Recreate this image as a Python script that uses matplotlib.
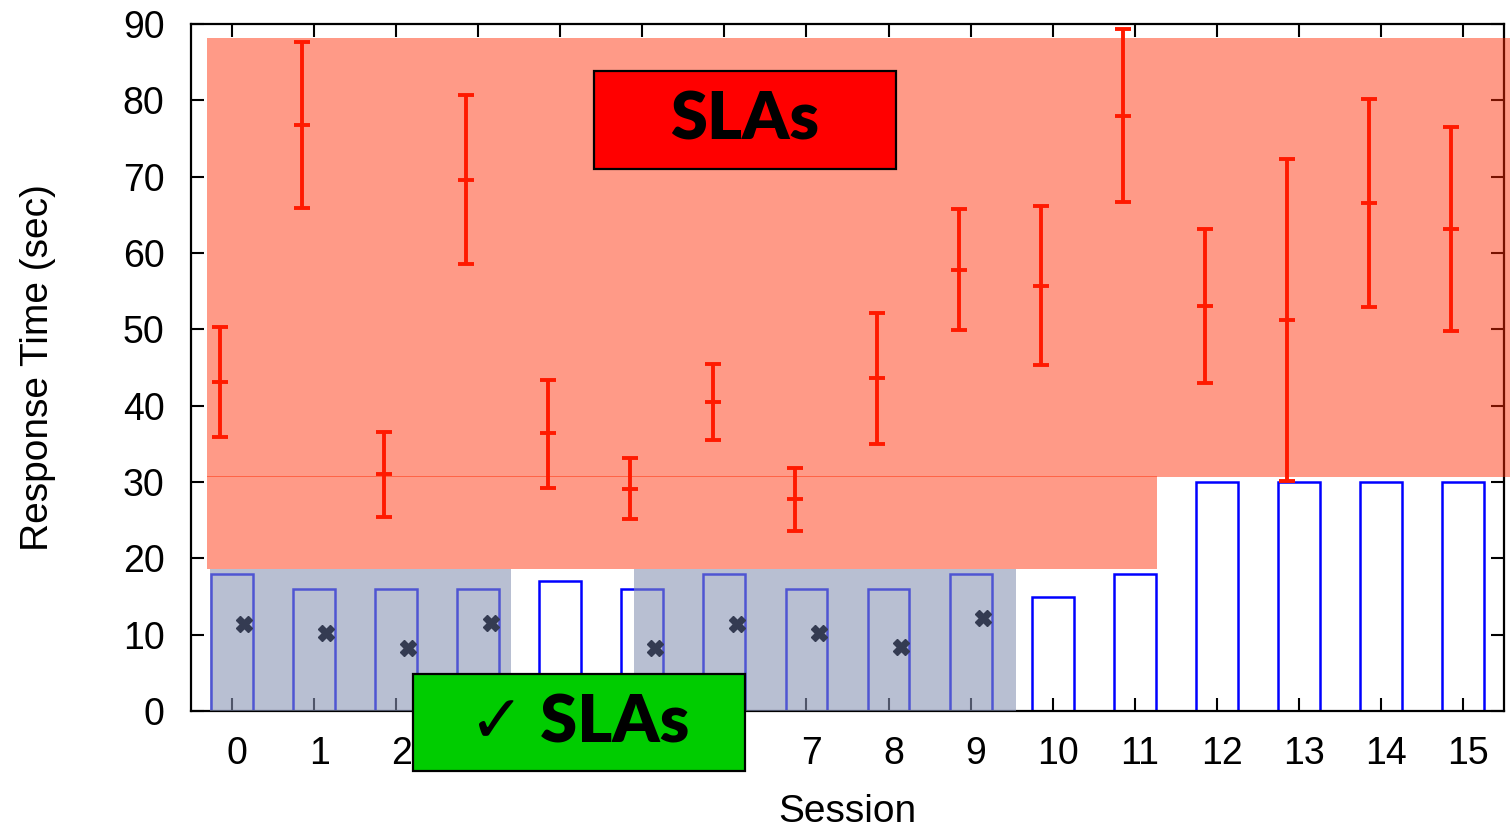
import numpy as np
import matplotlib
matplotlib.use("Agg")
import matplotlib.pyplot as plt
from matplotlib.patches import Rectangle
import matplotlib.transforms as mtransforms

plt.rcParams['font.family'] = ['Liberation Sans', 'DejaVu Sans']

# data
sessions = list(range(16))
bar_height = [18, 16, 16, 16, 17, 16, 18, 16, 16, 18, 15, 18, 30, 30, 30, 30]
resp_mean = [43.1, 76.8, 31.1, 69.6, 36.4, 29.1, 40.5, 27.8, 43.6, 57.8, 55.7, 78.0, 53.1, 51.2, 66.6, 63.2]
resp_low = [35.9, 65.9, 25.4, 58.5, 29.2, 25.2, 35.5, 23.6, 35.0, 49.9, 45.3, 66.7, 43.0, 30.1, 52.9, 49.8]
resp_high = [50.3, 87.7, 36.6, 80.7, 43.4, 33.2, 45.5, 31.8, 52.2, 65.7, 66.2, 89.4, 63.2, 72.3, 80.2, 76.5]
cross_val = [11.4, 10.2, 8.3, 11.5, None, 8.3, 11.4, 10.2, 8.4, 12.2, None, None, None, None, None, None]

# shaded zones (x range, y range)
sla_bad_upper = (-0.30, 16.0, 30.67, 88.2)
sla_bad_lower = (-0.30, 11.27, 18.6, 30.8)
sla_ok_zones = [(-0.27, 3.40), (4.90, 9.55)]
sla_ok_top = 18.6

W, H = 1510, 830
fig = plt.figure(figsize=(W / 100, H / 100), dpi=100)
ax = fig.add_axes([191 / W, 1 - 711 / H, (1504 - 191) / W, (711 - 24) / H])

x = np.array(sessions, dtype=float)
ax.bar(x, bar_height, width=0.51, facecolor='none', edgecolor='#0000ff', linewidth=1.8, zorder=2)

for x0, x1 in sla_ok_zones:
    ax.add_patch(Rectangle((x0, 0), x1 - x0, sla_ok_top, facecolor=(135/255, 146/255, 180/255),
                           alpha=0.59, edgecolor='none', zorder=3))

salmon = (1.0, 40/255, 0.0)
for x0, x1, y0, y1 in (sla_bad_upper, sla_bad_lower):
    ax.add_patch(Rectangle((x0, y0), x1 - x0, y1 - y0, facecolor=salmon, alpha=0.47,
                           edgecolor='none', zorder=3, clip_on=False))

cross = np.array([np.nan if v is None else v for v in cross_val])
ax.plot(x + 0.15, cross, linestyle='none', marker='X', markersize=12, color='#343b52', zorder=4)

mean = np.array(resp_mean)
yerr = [mean - np.array(resp_low), np.array(resp_high) - mean]
ax.errorbar(x - 0.145, mean, yerr=yerr, fmt='none', ecolor='#ff1a00', elinewidth=2.8,
            capsize=6, capthick=2.8, zorder=5, clip_on=False)
ax.plot(x - 0.145, mean, linestyle='none', marker='_', markersize=12, mew=2.8, color='#ff1a00', zorder=5)

ax.set_xlim(-0.5, 15.5)
ax.set_ylim(0, 90)
ax.set_xticks(sessions)
ax.set_yticks(range(0, 91, 10))
ax.tick_params(direction='in', length=9.5, width=1.5, top=True, right=True, labelsize=27)
ax.tick_params(axis='x', pad=18)
ax.tick_params(axis='y', pad=19)
offset = mtransforms.ScaledTranslation(5 / 100, 0, fig.dpi_scale_trans)
for lab in ax.get_xticklabels():
    lab.set_transform(lab.get_transform() + offset)
for s in ax.spines.values():
    s.set_linewidth(1.6)

ax.set_xlabel('Session', fontsize=28, labelpad=16)
ax.set_ylabel('Response Time (sec)', fontsize=28, labelpad=48)

# label boxes
def label_box(x0, y0, x1, y1, color, text):
    fig.add_artist(Rectangle((x0 / W, 1 - y1 / H), (x1 - x0) / W, (y1 - y0) / H,
                             transform=fig.transFigure, facecolor=color, edgecolor='black',
                             linewidth=1.6, zorder=10))
    fig.text((x0 + x1) / 2 / W, 1 - (y0 + y1) / 2 / H, text, ha='center', va='center',
             fontsize=48, fontweight='heavy', family=['Lato', 'DejaVu Sans'], zorder=11)

label_box(594, 71, 896, 169, '#ff0000', 'SLAs')
label_box(413, 674, 745, 771, '#00cc00', '\u2713 SLAs')

fig.savefig('out.png', dpi=100)
